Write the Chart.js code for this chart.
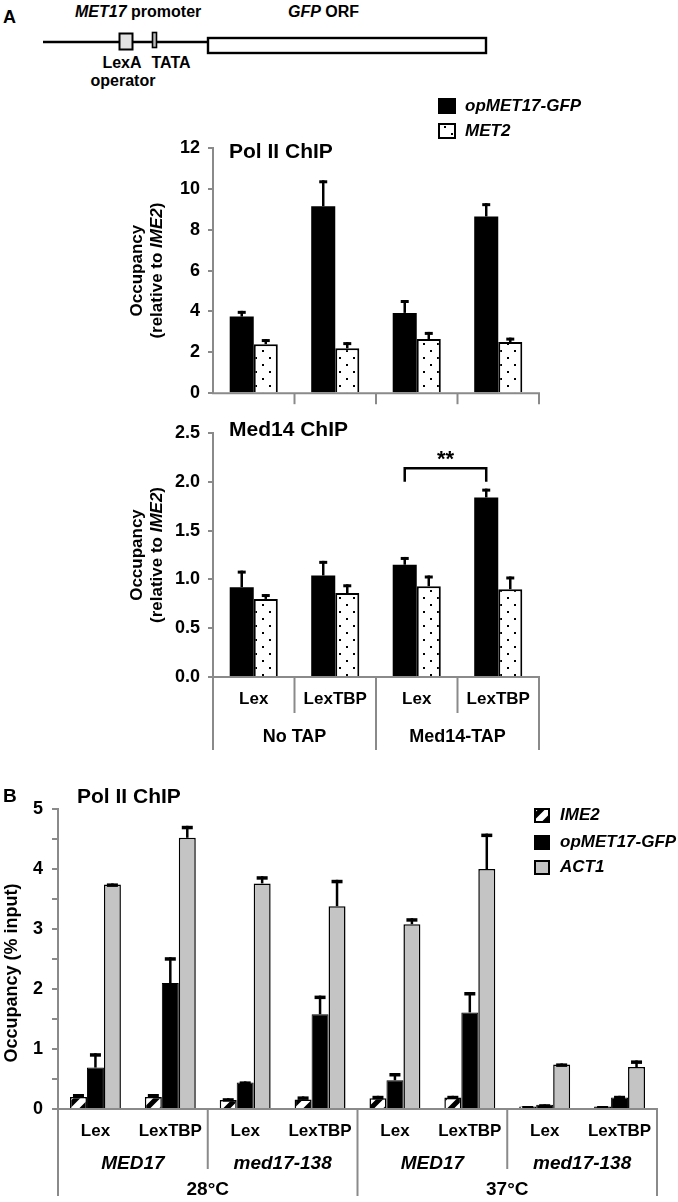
<!DOCTYPE html>
<html><head><meta charset="utf-8">
<script src="https://cdn.jsdelivr.net/npm/chart.js@4.4.1/dist/chart.umd.min.js"></script>
<style>
html,body{margin:0;padding:0;background:#fff;width:678px;height:1202px;overflow:hidden;}
canvas{position:absolute;left:0;}
#diagram{position:absolute;left:0;top:0;}
</style></head><body>
<svg id="diagram" width="678" height="92" xmlns="http://www.w3.org/2000/svg" font-family="'Liberation Sans', Arial, sans-serif" font-weight="bold">
  <text x="3" y="23" font-size="18">A</text>
  <text x="75" y="17" font-size="16"><tspan font-style="italic">MET17</tspan> promoter</text>
  <text x="288" y="17" font-size="16"><tspan font-style="italic">GFP</tspan> ORF</text>
  <line x1="43" y1="42" x2="208" y2="42" stroke="#000" stroke-width="2.5"/>
  <rect x="119.5" y="33.5" width="13" height="16" fill="#e2e2e2" stroke="#000" stroke-width="2"/>
  <rect x="152.5" y="32.5" width="4" height="15" fill="#bbb" stroke="#000" stroke-width="1.6"/>
  <rect x="208" y="38" width="278" height="15" fill="#fff" stroke="#000" stroke-width="2.4"/>
  <text x="122" y="68" font-size="16" text-anchor="middle">LexA</text>
  <text x="123" y="86" font-size="16" text-anchor="middle">operator</text>
  <text x="171" y="68" font-size="16" text-anchor="middle">TATA</text>
</svg>
<canvas id="c1" width="678" height="324" style="top:88px"></canvas>
<canvas id="c2" width="678" height="352" style="top:412px"></canvas>
<canvas id="c3" width="678" height="427" style="top:775px"></canvas>
<script>
// ---------- DATA ----------
const catsA = ['Lex', 'LexTBP', 'Lex', 'LexTBP'];
const groupsA = ['No TAP', 'Med14-TAP'];
const seriesA = ['opMET17-GFP', 'MET2'];
const yTicksPolA = [0, 2, 4, 6, 8, 10, 12];
const polA_gfp = [3.75, 9.15, 3.93, 8.65];
const polA_gfpErr = [0.28, 1.27, 0.63, 0.65];
const polA_met2 = [2.40, 2.20, 2.65, 2.50];
const polA_met2Err = [0.25, 0.30, 0.35, 0.22];
const yTicksMedA = ['0.0', '0.5', '1.0', '1.5', '2.0', '2.5'];
const medA_gfp = [0.92, 1.04, 1.15, 1.84];
const medA_gfpErr = [0.17, 0.15, 0.08, 0.09];
const medA_met2 = [0.80, 0.86, 0.93, 0.90];
const medA_met2Err = [0.05, 0.09, 0.11, 0.13];

const catsB = ['Lex', 'LexTBP', 'Lex', 'LexTBP', 'Lex', 'LexTBP', 'Lex', 'LexTBP'];
const strainsB = ['MED17', 'med17-138', 'MED17', 'med17-138'];
const tempsB = ['28°C', '37°C'];
const seriesB = ['IME2', 'opMET17-GFP', 'ACT1'];
const yTicksB = [0, 1, 2, 3, 4, 5];
const polB_ime2 = [0.20, 0.20, 0.15, 0.16, 0.18, 0.19, 0.04, 0.04];
const polB_ime2Err = [0.05, 0.05, 0.03, 0.05, 0.04, 0.03, 0.01, 0.01];
const polB_gfp = [0.69, 2.10, 0.44, 1.58, 0.48, 1.61, 0.07, 0.19];
const polB_gfpErr = [0.24, 0.43, 0.02, 0.31, 0.12, 0.34, 0.01, 0.03];
const polB_act1 = [3.74, 4.52, 3.76, 3.38, 3.08, 4.00, 0.74, 0.70];
const polB_act1Err = [0.02, 0.20, 0.12, 0.44, 0.10, 0.59, 0.02, 0.11];

// ---------- STYLE HELPERS ----------
const FAM = '"Liberation Sans", Arial, Helvetica, sans-serif';
const GRAY = '#8a8a8a';
const fB = s => 'bold ' + s + 'px ' + FAM;
const fBI = s => 'italic bold ' + s + 'px ' + FAM;

function dotPattern() {
  const c = document.createElement('canvas'); c.width = 14; c.height = 14;
  const g = c.getContext('2d');
  g.fillStyle = '#fff'; g.fillRect(0, 0, 14, 14);
  g.fillStyle = '#000'; g.fillRect(3, 3, 2, 2); g.fillRect(10, 10, 2, 2);
  return g.createPattern(c, 'repeat');
}
function hatchPattern() {
  const c = document.createElement('canvas'); c.width = 16; c.height = 16;
  const g = c.getContext('2d');
  g.fillStyle = '#fff'; g.fillRect(0, 0, 16, 16);
  g.strokeStyle = '#000'; g.lineWidth = 5;
  g.beginPath();
  g.moveTo(-4, 20); g.lineTo(20, -4);
  g.moveTo(-4, 4); g.lineTo(4, -4);
  g.moveTo(12, 20); g.lineTo(20, 12);
  g.stroke();
  return g.createPattern(c, 'repeat');
}
const DOTS = dotPattern();
const HATCH = hatchPattern();

function rich(ctx, parts, x, y, rot, align) {
  ctx.save(); ctx.translate(x, y); if (rot) ctx.rotate(-Math.PI / 2);
  let w = 0; parts.forEach(p => { ctx.font = p[1]; w += ctx.measureText(p[0]).width; });
  let cx = align === 'left' ? 0 : -w / 2;
  ctx.textBaseline = 'middle'; ctx.textAlign = 'left'; ctx.fillStyle = '#000';
  parts.forEach(p => { ctx.font = p[1]; ctx.fillText(p[0], cx, 0); cx += ctx.measureText(p[0]).width; });
  ctx.restore();
}
function seg(ctx, x1, y1, x2, y2, color, w) {
  ctx.save(); ctx.strokeStyle = color; ctx.lineWidth = w; ctx.lineCap = 'butt';
  ctx.beginPath(); ctx.moveTo(x1, y1); ctx.lineTo(x2, y2); ctx.stroke(); ctx.restore();
}
function legendBox(ctx, x, y, w, h, fill) {
  ctx.save(); ctx.fillStyle = fill; ctx.fillRect(x, y, w, h);
  ctx.strokeStyle = '#000'; ctx.lineWidth = 2; ctx.strokeRect(x + 1, y + 1, w - 2, h - 2); ctx.restore();
}

const errorBars = {
  id: 'errorBars',
  afterDatasetsDraw(chart, args, o) {
    const ctx = chart.ctx, ys = chart.scales.y;
    chart.data.datasets.forEach((ds, i) => {
      const meta = chart.getDatasetMeta(i);
      meta.data.forEach((el, j) => {
        const top = ys.getPixelForValue(ds.data[j] + ds.errors[j]);
        seg(ctx, el.x, el.y, el.x, top, '#000', o.stem);
        seg(ctx, el.x - o.cap / 2, top + o.capH / 2, el.x + o.cap / 2, top + o.capH / 2, '#000', o.capH);
      });
    });
  }
};

function yAxis(ticks, width, fontSize, tickLen, pad, step, labelFn) {
  const nums = ticks.map(Number);
  return {
    min: nums[0], max: nums[nums.length - 1],
    afterFit(s) { s.width = width; },
    ticks: { stepSize: step, autoSkip: false,
      font: { family: FAM, weight: 'bold', size: fontSize }, color: '#000', padding: pad,
      callback: labelFn },
    grid: { drawOnChartArea: false, tickLength: tickLen, color: GRAY, lineWidth: 2 },
    border: { color: GRAY, width: 2 }
  };
}

function baseOptions(pad, y, catPct, extra) {
  return {
    responsive: false, animation: false, devicePixelRatio: 1,
    layout: { padding: pad },
    scales: { x: { display: false, offset: true }, y: y },
    datasets: { bar: { categoryPercentage: catPct, barPercentage: 1.0 } },
    plugins: Object.assign({ legend: { display: false }, tooltip: { enabled: false }, title: { display: false } }, extra)
  };
}

// ---------- CHART A1 : Pol II ChIP ----------
const T1 = 88;
new Chart(document.getElementById('c1'), {
  type: 'bar',
  data: { labels: catsA, datasets: [
    { label: seriesA[0], data: polA_gfp, errors: polA_gfpErr, backgroundColor: '#000', borderWidth: 0 },
    { label: seriesA[1], data: polA_met2, errors: polA_met2Err, backgroundColor: DOTS, borderColor: '#000', borderWidth: 2 }
  ]},
  options: baseOptions({ left: 0, right: 678 - 539, top: 148 - T1, bottom: 324 - (394 - T1) },
    yAxis(yTicksPolA, 213, 18, 5, 8, 2, v => String(v)), 0.59, { errorBars: { stem: 2.5, cap: 8, capH: 3 } }),
  plugins: [errorBars, {
    id: 'decorA1',
    afterDraw(chart) {
      const ctx = chart.ctx, a = chart.chartArea, n = catsA.length, w = (a.right - a.left) / n;
      seg(ctx, a.left - 1, a.bottom, a.right + 1, a.bottom, GRAY, 2);
      for (let k = 1; k <= n; k++) seg(ctx, a.left + k * w, a.bottom, a.left + k * w, a.bottom + 11, GRAY, 2);
      rich(ctx, [['Pol II ChIP', fB(21)]], 229, 152 - T1, false, 'left');
      const cy = (a.top + a.bottom) / 2;
      rich(ctx, [['Occupancy', fB(17)]], 137, cy, true);
      rich(ctx, [['(relative to ', fB(17)], ['IME2', fBI(17)], [')', fB(17)]], 157, cy, true);
      legendBox(ctx, 438, 98 - T1, 18, 16, '#000');
      legendBox(ctx, 438, 123 - T1, 18, 16, DOTS);
      rich(ctx, [[seriesA[0], fBI(17)]], 465, 106 - T1, false, 'left');
      rich(ctx, [[seriesA[1], fBI(17)]], 465, 131 - T1, false, 'left');
    }
  }]
});

// ---------- CHART A2 : Med14 ChIP ----------
const T2 = 412;
new Chart(document.getElementById('c2'), {
  type: 'bar',
  data: { labels: catsA, datasets: [
    { label: seriesA[0], data: medA_gfp, errors: medA_gfpErr, backgroundColor: '#000', borderWidth: 0 },
    { label: seriesA[1], data: medA_met2, errors: medA_met2Err, backgroundColor: DOTS, borderColor: '#000', borderWidth: 2 }
  ]},
  options: baseOptions({ left: 0, right: 678 - 539, top: 433 - T2, bottom: 352 - (677 - T2) },
    yAxis(yTicksMedA, 213, 18, 5, 8, 0.5, v => Number(v).toFixed(1)), 0.59, { errorBars: { stem: 2.5, cap: 8, capH: 3 } }),
  plugins: [errorBars, {
    id: 'decorA2',
    afterDraw(chart) {
      const ctx = chart.ctx, a = chart.chartArea, n = catsA.length, w = (a.right - a.left) / n;
      const xs = chart.scales.x, ys = chart.scales.y;
      seg(ctx, a.left - 1, a.bottom, a.right + 1, a.bottom, GRAY, 2);
      for (let k = 0; k <= n; k++) {
        const outer = k % 2 === 0;
        seg(ctx, a.left + k * w, a.bottom, a.left + k * w, (outer ? 750 : 713) - T2, GRAY, 2);
      }
      catsA.forEach((c, i) => rich(ctx, [[c, fB(17)]], xs.getPixelForValue(i), 699 - T2));
      groupsA.forEach((g, i) => rich(ctx, [[g, fB(18)]], a.left + (2 * i + 1) * w, 737 - T2));
      rich(ctx, [['Med14 ChIP', fB(21)]], 229, 430 - T2, false, 'left');
      const cy = (a.top + a.bottom) / 2;
      rich(ctx, [['Occupancy', fB(17)]], 137, cy, true);
      rich(ctx, [['(relative to ', fB(17)], ['IME2', fBI(17)], [')', fB(17)]], 157, cy, true);
      // significance bracket between opMET17-GFP bars of Med14-TAP Lex and LexTBP
      const m = chart.getDatasetMeta(0);
      const x1 = m.data[2].x, x2 = m.data[3].x;
      const yTop = ys.getPixelForValue(2.14), yLeg = ys.getPixelForValue(2.0);
      ctx.save(); ctx.strokeStyle = '#000'; ctx.lineWidth = 2.5;
      ctx.beginPath(); ctx.moveTo(x1, yLeg); ctx.lineTo(x1, yTop); ctx.lineTo(x2, yTop); ctx.lineTo(x2, yLeg); ctx.stroke();
      ctx.restore();
      rich(ctx, [['**', fB(22)]], (x1 + x2) / 2, yTop - 8);
    }
  }]
});

// ---------- CHART B : Pol II ChIP ----------
const T3 = 775;
new Chart(document.getElementById('c3'), {
  type: 'bar',
  data: { labels: catsB, datasets: [
    { label: seriesB[0], data: polB_ime2, errors: polB_ime2Err, backgroundColor: HATCH, borderColor: '#000', borderWidth: 1.5 },
    { label: seriesB[1], data: polB_gfp, errors: polB_gfpErr, backgroundColor: '#000', borderColor: '#000', borderWidth: 1 },
    { label: seriesB[2], data: polB_act1, errors: polB_act1Err, backgroundColor: '#c4c4c4', borderColor: '#000', borderWidth: 1.5 }
  ]},
  options: baseOptions({ left: 0, right: 678 - 657, top: 809 - T3, bottom: 427 - (1109 - T3) },
    yAxis(yTicksB, 58, 18, 6, 9, 0.5, v => (yTicksB.includes(v) ? String(v) : '')), 0.68, { errorBars: { stem: 2.5, cap: 11, capH: 3.5 } }),
  plugins: [errorBars, {
    id: 'decorB',
    afterDraw(chart) {
      const ctx = chart.ctx, a = chart.chartArea, n = catsB.length, w = (a.right - a.left) / n;
      const xs = chart.scales.x;
      seg(ctx, a.left - 1, a.bottom, a.right + 1, a.bottom, GRAY, 2);
      for (let k = 0; k <= n; k += 2) {
        const bottom = (k % 4 === 0) ? 1196 : 1169;
        seg(ctx, a.left + k * w, a.bottom, a.left + k * w, bottom - T3, GRAY, 2);
      }
      catsB.forEach((c, i) => rich(ctx, [[c, fB(17)]], xs.getPixelForValue(i), 1131 - T3));
      strainsB.forEach((s, i) => rich(ctx, [[s, fBI(19)]], a.left + (2 * i + 1) * w, 1164 - T3));
      tempsB.forEach((t, i) => rich(ctx, [[t, fB(19)]], a.left + (4 * i + 2) * w, 1190 - T3));
      rich(ctx, [['B', fB(19)]], 3, 797 - T3, false, 'left');
      rich(ctx, [['Pol II ChIP', fB(21)]], 77, 797 - T3, false, 'left');
      rich(ctx, [['Occupancy (% input)', fB(18)]], 12, 973 - T3, true);
      const fills = [HATCH, '#000', '#c4c4c4'];
      const rows = [815, 842, 867];
      seriesB.forEach((s, i) => {
        legendBox(ctx, 534, rows[i] - 7 - T3, 16, 15, fills[i]);
        rich(ctx, [[s, fBI(17)]], 560, rows[i] - T3, false, 'left');
      });
    }
  }]
});
</script>
</body></html>
